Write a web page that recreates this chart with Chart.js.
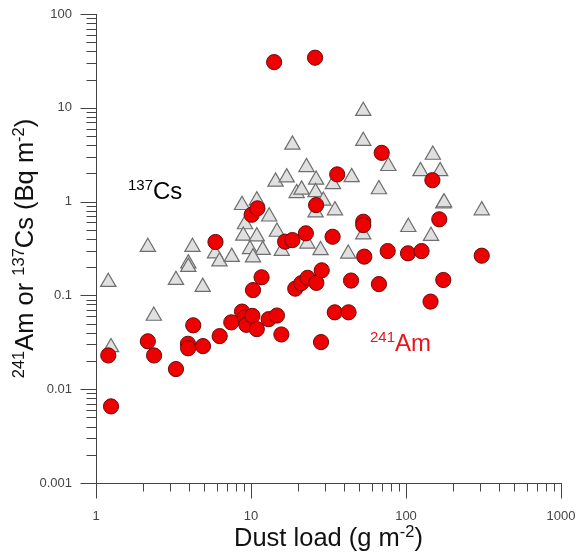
<!DOCTYPE html>
<html>
<head>
<meta charset="utf-8">
<script src="https://cdn.jsdelivr.net/npm/chart.js@4.4.1/dist/chart.umd.min.js"></script>
<style>
  html, body { margin: 0; padding: 0; background: #fff; }
  #wrap { width: 576px; height: 555px; }
</style>
</head>
<body>
<div id="wrap"><canvas id="dustChart" width="576" height="555"></canvas></div>
<script>
// 241Am: dust load (g m-2) and activity (Bq m-2)
var amDust = [1.20, 1.25, 2.16, 2.37, 3.28, 3.92, 3.93, 4.24, 4.90, 5.90,
  6.28, 7.46, 8.75, 9.15, 9.33, 10.2, 10.9, 13.0, 14.7, 15.7,
  10.1, 11.0, 10.3, 11.7, 14.1, 16.6, 18.5, 19.3, 21.1, 23.2,
  22.6, 26.3, 25.9, 26.4, 28.6, 28.3, 33.6, 34.7, 42.6, 36.0,
  44.2, 53.0, 53.0, 53.8, 66.9, 69.7, 76.2, 103, 126, 144,
  148, 164, 174, 308];
var amValues = [0.0229, 0.00656, 0.0324, 0.0229, 0.0164, 0.0305, 0.0273, 0.048, 0.0288, 0.371,
  0.0368, 0.0516, 0.0672, 0.0583, 0.0486, 0.0605, 0.0437, 0.0558, 0.061, 0.0383,
  0.724, 0.847, 0.114, 0.156, 30.7, 0.374, 0.389, 0.118, 0.135, 0.154,
  0.459, 0.918, 34.2, 0.136, 0.185, 0.0318, 0.422, 0.066, 0.066, 1.95,
  0.144, 0.610, 0.562, 0.259, 0.132, 3.31, 0.297, 0.281, 0.297, 0.0859,
  1.69, 0.647, 0.146, 0.265];

// 137Cs
var csDust = [1.20, 1.25, 2.16, 2.36, 3.28, 4.19, 3.94, 3.94, 4.88, 5.86,
  6.26, 7.51, 8.75, 10.9, 9.15, 8.92, 10.9, 9.85, 11.9, 10.3,
  13.1, 14.7, 15.8, 14.4, 17.0, 18.5, 22.8, 19.7, 21.2, 26.3,
  26.1, 29.3, 33.8, 34.8, 26.1, 23.1, 28.1, 42.4, 44.6, 53.0,
  53.0, 53.0, 66.9, 76.9, 103.5, 124, 149, 166, 145, 174,
  308, 176];
var csValues = [0.139, 0.028, 0.328, 0.0605, 0.146, 0.328, 0.219, 0.201, 0.123, 0.280,
  0.230, 0.257, 0.918, 1.03, 0.572, 0.432, 0.425, 0.310, 0.305, 0.254,
  0.692, 0.476, 0.297, 1.63, 1.81, 4.04, 2.33, 1.23, 1.34, 1.71,
  1.26, 1.02, 1.53, 0.806, 0.764, 0.356, 0.303, 0.278, 1.82, 9.25,
  4.42, 0.446, 1.35, 2.39, 0.535, 2.11, 3.15, 2.11, 0.430, 0.952,
  0.806, 0.98];

var xTicks = [1, 10, 100, 1000];
var xTickLabels = ['1', '10', '100', '1000'];
var yTicks = [0.001, 0.01, 0.1, 1, 10, 100];
var yTickLabels = ['0.001', '0.01', '0.1', '1', '10', '100'];

var FONT = '"Liberation Sans", Arial, sans-serif';

function toPoints(xs, ys) {
  return xs.map(function(x, i) { return { x: x, y: ys[i] }; });
}

// text with superscripts: parts = [[text, isSup], ...]
function drawRich(ctx, parts, x, y, size, supSize, color, align) {
  var widths = parts.map(function(p) {
    ctx.font = (p[1] ? supSize : size) + 'px ' + FONT;
    return ctx.measureText(p[0]).width;
  });
  var total = widths.reduce(function(a, b) { return a + b; }, 0);
  var cx = align === 'center' ? x - total / 2 : x;
  ctx.fillStyle = color;
  ctx.textAlign = 'left';
  ctx.textBaseline = 'alphabetic';
  parts.forEach(function(p, i) {
    ctx.font = (p[1] ? supSize : size) + 'px ' + FONT;
    ctx.fillText(p[0], cx, p[1] ? y - size * 0.36 : y);
    cx += widths[i];
  });
}

var axesPlugin = {
  id: 'axesPlugin',
  beforeDatasetsDraw: function(chart) {
    var ctx = chart.ctx;
    var xs = chart.scales.x, ys = chart.scales.y;
    var area = chart.chartArea;
    var left = Math.round(area.left) + 0.5;
    var bottom = Math.round(area.bottom) + 0.5;
    ctx.save();
    ctx.strokeStyle = '#444';
    ctx.lineWidth = 1;
    ctx.beginPath();
    ctx.moveTo(left, Math.round(area.top));
    ctx.lineTo(left, bottom);
    ctx.lineTo(Math.round(area.right) + 1, bottom);
    // y ticks
    for (var d = -3; d <= 2; d++) {
      for (var m = 1; m <= 9; m++) {
        var v = m * Math.pow(10, d);
        if (v > 100.0001) break;
        var py = Math.round(ys.getPixelForValue(v)) + 0.5;
        ctx.moveTo(left - (m === 1 ? 16 : 10), py);
        ctx.lineTo(left, py);
      }
    }
    // x ticks
    for (var e = 0; e <= 3; e++) {
      for (var k = 1; k <= 9; k++) {
        var xv = k * Math.pow(10, e);
        if (xv > 1000.0001) break;
        var px = Math.round(xs.getPixelForValue(xv)) + 0.5;
        ctx.moveTo(px, bottom);
        ctx.lineTo(px, bottom + (k === 1 ? 15 : 8));
      }
    }
    ctx.stroke();
    ctx.restore();
  },
  afterDraw: function(chart) {
    var ctx = chart.ctx;
    var area = chart.chartArea;
    ctx.save();
    // x title
    drawRich(ctx, [['Dust load (g m', false], ['-2', true], [')', false]],
      (area.left + area.right) / 2, 546, 25.5, 16.5, '#111', 'center');
    // y title
    ctx.translate(33, (area.top + area.bottom) / 2);
    ctx.rotate(-Math.PI / 2);
    drawRich(ctx, [['241', true], ['Am or ', false], ['137', true], ['Cs (Bq m', false], ['-2', true], [')', false]],
      0, 0, 25.5, 16.5, '#111', 'center');
    ctx.restore();
    ctx.save();
    drawRich(ctx, [['137', true], ['Cs', false]], 128, 199, 24, 15, '#000', 'left');
    drawRich(ctx, [['241', true], ['Am', false]], 370, 351, 24, 15, '#e8141b', 'left');
    ctx.restore();
  }
};

var ctx = document.getElementById('dustChart').getContext('2d');
var chart = new Chart(ctx, {
  type: 'scatter',
  data: {
    datasets: [{
      label: '241Am',
      data: toPoints(amDust, amValues),
      pointStyle: 'circle',
      pointRadius: 7.6,
      pointHoverRadius: 7.6,
      backgroundColor: '#ee0000',
      borderColor: '#6a0a0a',
      borderWidth: 1,
      order: 0
    }, {
      label: '137Cs',
      data: toPoints(csDust, csValues),
      pointStyle: 'triangle',
      pointRadius: 8.8,
      pointHoverRadius: 8.8,
      backgroundColor: '#e0e0e0',
      borderColor: '#6e6e6e',
      borderWidth: 1.2,
      order: 1
    }]
  },
  options: {
    responsive: false,
    animation: false,
    events: [],
    layout: { padding: { left: 0, right: 15, top: 14, bottom: 0 } },
    plugins: {
      legend: { display: false },
      tooltip: { enabled: false }
    },
    scales: {
      x: {
        type: 'logarithmic',
        min: 1,
        max: 1000,
        grid: { display: false, drawTicks: false },
        border: { display: false },
        afterBuildTicks: function(scale) {
          scale.ticks = xTicks.map(function(v) { return { value: v, major: true }; });
        },
        afterFit: function(scale) {
          scale.height = 72;
          scale.paddingLeft = 0;
          scale.paddingRight = 0;
        },
        ticks: {
          autoSkip: false,
          maxRotation: 0,
          padding: 26,
          color: '#444',
          font: { family: FONT, size: 13 },
          callback: function(value, index) { return xTickLabels[index]; }
        }
      },
      y: {
        type: 'logarithmic',
        min: 0.001,
        max: 100,
        grid: { display: false, drawTicks: false },
        border: { display: false },
        afterBuildTicks: function(scale) {
          scale.ticks = yTicks.map(function(v) { return { value: v, major: true }; });
        },
        afterFit: function(scale) {
          scale.width = 96;
          scale.paddingTop = 0;
          scale.paddingBottom = 0;
        },
        ticks: {
          autoSkip: false,
          padding: 24,
          color: '#444',
          font: { family: FONT, size: 13 },
          callback: function(value, index) { return yTickLabels[index]; }
        }
      }
    }
  },
  plugins: [axesPlugin]
});
</script>
</body>
</html>
